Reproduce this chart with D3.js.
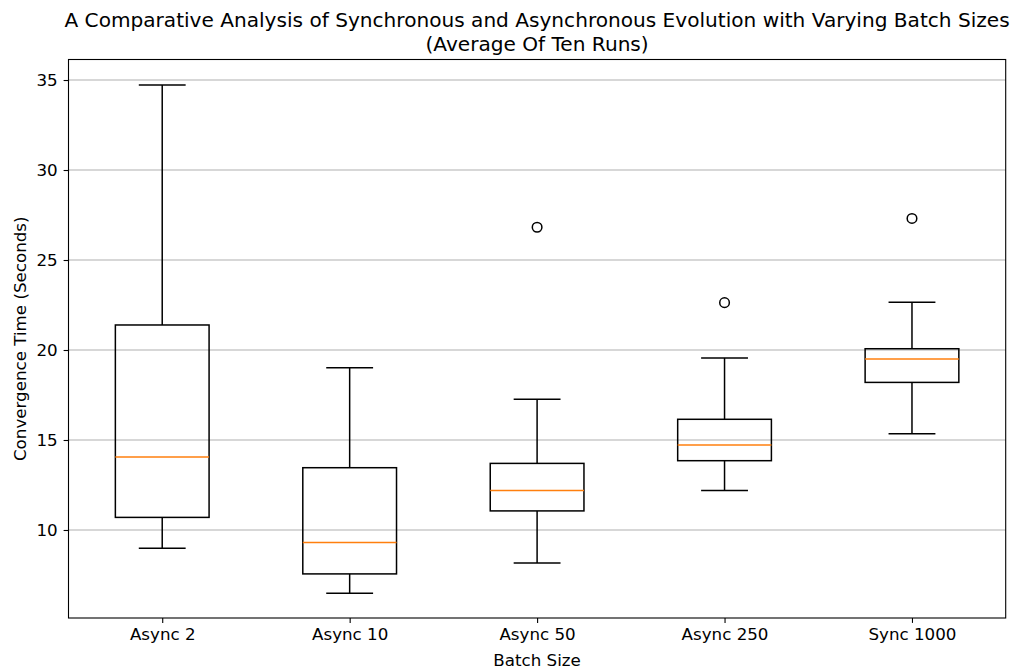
<!DOCTYPE html>
<html>
<head>
<meta charset="utf-8">
<script src="https://cdn.jsdelivr.net/npm/d3@7"></script>
<style>
  body { margin: 0; background: #fff; }
  svg { display: block; font-family: "DejaVu Sans", sans-serif; }
</style>
</head>
<body>
<svg id="chart" width="1013" height="668"></svg>
<script>
const categories = ["Async 2", "Async 10", "Async 50", "Async 250", "Sync 1000"];
const whiskerLow = [8.98, 6.48, 8.17, 12.19, 15.35];
const q1 = [10.70, 7.56, 11.06, 13.85, 18.20];
const median = [14.06, 9.31, 12.19, 14.72, 19.50];
const q3 = [21.39, 13.46, 13.70, 16.15, 20.07];
const whiskerHigh = [34.72, 19.02, 17.26, 19.56, 22.65];
const outliers = [[], [], [26.82], [22.63], [27.31]];
const yTicks = [10, 15, 20, 25, 30, 35];
const titleLines = ["A Comparative Analysis of Synchronous and Asynchronous Evolution with Varying Batch Sizes", "(Average Of Ten Runs)"];
const xLabel = "Batch Size";
const yLabel = "Convergence Time (Seconds)";

const boxes = categories.map((c, i) => ({
  cat: c, lo: whiskerLow[i], q1: q1[i], med: median[i], q3: q3[i], hi: whiskerHigh[i], out: outliers[i]
}));

const svg = d3.select("#chart");
const m = { left: 68.5, right: 1005.7, top: 59.5, bottom: 618 };

const x = d3.scaleLinear().domain([0.5, categories.length + 0.5]).range([m.left, m.right]);
const y = d3.scaleLinear().domain([5.11, 36.14]).range([m.bottom, m.top]);
const unit = x(2) - x(1);
const boxW = unit * 0.5;
const capW = unit * 0.25;

// grid
svg.append("g").selectAll("line").data(yTicks).join("line")
  .attr("x1", m.left).attr("x2", m.right)
  .attr("y1", d => y(d)).attr("y2", d => y(d))
  .attr("stroke", "#b0b0b0").attr("stroke-width", 1.1);

// boxes
const g = svg.append("g").attr("fill", "none");
boxes.forEach((b, i) => {
  const cx = x(i + 1);
  const lw = 1.5;
  g.append("line").attr("x1", cx).attr("x2", cx).attr("y1", y(b.q3)).attr("y2", y(b.hi))
    .attr("stroke", "#000").attr("stroke-width", lw);
  g.append("line").attr("x1", cx).attr("x2", cx).attr("y1", y(b.q1)).attr("y2", y(b.lo))
    .attr("stroke", "#000").attr("stroke-width", lw);
  [b.hi, b.lo].forEach(v => {
    g.append("line").attr("x1", cx - capW / 2).attr("x2", cx + capW / 2)
      .attr("y1", y(v)).attr("y2", y(v)).attr("stroke", "#000").attr("stroke-width", lw);
  });
  g.append("rect").attr("x", cx - boxW / 2).attr("width", boxW)
    .attr("y", y(b.q3)).attr("height", y(b.q1) - y(b.q3))
    .attr("stroke", "#000").attr("stroke-width", lw).attr("fill", "none");
  g.append("line").attr("x1", cx - boxW / 2).attr("x2", cx + boxW / 2)
    .attr("y1", y(b.med)).attr("y2", y(b.med)).attr("stroke", "#ff7f0e").attr("stroke-width", lw);
  g.selectAll(null).data(b.out).join("circle")
    .attr("cx", cx).attr("cy", d => y(d)).attr("r", 4.8)
    .attr("fill", "none").attr("stroke", "#000").attr("stroke-width", 1.5);
});

// axes
const xAxis = d3.axisBottom(x).tickValues(d3.range(1, categories.length + 1))
  .tickFormat(d => categories[d - 1]).tickSize(4.9).tickPadding(4.9);
const yAxis = d3.axisLeft(y).tickValues(yTicks).tickSize(4.9).tickPadding(6);

const gx = svg.append("g").attr("transform", `translate(0,${m.bottom})`).call(xAxis);
const gy = svg.append("g").attr("transform", `translate(${m.left},0)`).call(yAxis);
[gx, gy].forEach(a => {
  a.select(".domain").remove();
  a.selectAll(".tick line").attr("stroke", "#000").attr("stroke-width", 1.1);
  a.selectAll(".tick text").attr("fill", "#000").style("font-size", "16.7px")
    .style("font-family", "DejaVu Sans, sans-serif");
});

// frame
svg.append("rect").attr("x", m.left).attr("y", m.top)
  .attr("width", m.right - m.left).attr("height", m.bottom - m.top)
  .attr("fill", "none").attr("stroke", "#000").attr("stroke-width", 1.1);

// labels
svg.append("text").attr("x", (m.left + m.right) / 2).attr("y", 665.5)
  .attr("text-anchor", "middle").style("font-size", "16.7px").text(xLabel);
svg.append("text").attr("transform", `translate(25.5,${(m.top + m.bottom) / 2}) rotate(-90)`)
  .attr("text-anchor", "middle").style("font-size", "16.7px").text(yLabel);

const t = svg.append("text").attr("text-anchor", "middle").style("font-size", "20.1px");
titleLines.forEach((line, i) => {
  t.append("tspan").attr("x", (m.left + m.right) / 2).attr("y", 27 + i * 23.5).text(line);
});
</script>
</body>
</html>
